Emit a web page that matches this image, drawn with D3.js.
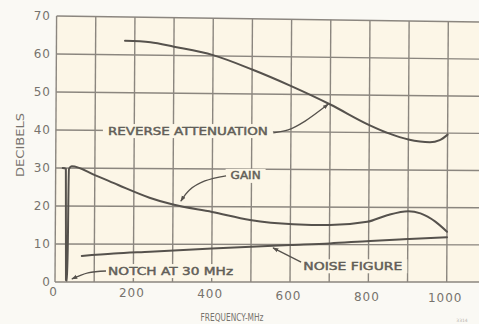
<!DOCTYPE html>
<html><head><meta charset="utf-8">
<script src="https://cdn.jsdelivr.net/npm/d3@7"></script>
<style>html,body{margin:0;padding:0;background:#faf9f4;}svg{display:block;}</style>
</head><body>
<svg id="c" width="479" height="324"></svg>
<script>
// ---------- data ----------
const freqGrid = [0,100,200,300,400,500,600,700,800,900,1000];
const freqTickLabels = [0,200,400,600,800,1000];
const dbTicks = [0,10,20,30,40,50,60,70];

// [frequency MHz, dB]
const reverseAttenuation = [[175,63.7],[240,63.4],[300,62.3],[400,60.2],[500,56.5],[600,52.2],[700,47.4],[800,42.0],[850,39.8],[900,38.2],[955,37.5],[980,38.1],[1000,39.6]];
const gain = [[18,30.0],[26,29.8],[28,0.5],[31,0.4],[34,29.8],[41,30.5],[100,28.2],[160,25.6],[240,22.3],[300,20.5],[400,18.6],[497,16.5],[607,15.4],[701,15.2],[796,16.1],[847,17.9],[901,19.0],[932,18.4],[970,16.2],[1000,13.5]];
const noiseFigure = [[68,6.85],[150,7.5],[242,8.0],[400,8.9],[500,9.4],[600,9.85],[701,10.3],[804,11.0],[900,11.5],[1000,12.0]];

const labelTexts = ["REVERSE ATTENUATION","GAIN","NOTCH AT 30 MHz","NOISE FIGURE"];
const labelAnchors = [[337,40.0],[485,28.2],[295,2.9],[760,4.2]];
const leaders = [
  [[555,39.7],[593,40.5],[636,42.9],[695,47.5]],
  [[435,28.2],[381,26.8],[342,24.4],[320,21.4]],
  [[130,2.9],[84,2.4],[43,0.8]],
  [[628,5.3],[556,9.1]]
];

// ---------- layout / style ----------
const W = 479, H = 324;
const labelLens = [160,30,125,99];
const bgOuter = "#faf9f4", bgPlot = "#fcf6e7";
const gridCol = "#8b867f", curveCol = "#56524d", textCol = "#625e58", tickCol = "#77736d";
const font = "'DejaVu Sans', Verdana, sans-serif";

const x = d3.scaleLinear().domain([0,1000]).range([55,446.7]);
const y = d3.scaleLinear().domain([0,70]).range([282,16]);
const fMax = x.invert(W);

// slight scan distortion of the original (top-right corner sits lower)
function warp(f, v){
  const px = x(f), py = y(v);
  const fy = (y(0) - py) / (y(0) - y(70));
  const fx = (px - x(0)) / (x(1000) - x(0));
  return [px + 1.6*fy, py + 5.5*fx*fy];
}

const svg = d3.select("#c");
svg.append("rect").attr("width",W).attr("height",H).attr("fill",bgOuter);

const defs = svg.append("defs");
defs.append("marker").attr("id","ah").attr("viewBox","0 0 10 10")
  .attr("refX",9).attr("refY",5).attr("markerWidth",6).attr("markerHeight",6)
  .attr("orient","auto").attr("markerUnits","userSpaceOnUse")
  .append("path").attr("d","M0,1.5 L10,5 L0,8.5 Z").attr("fill",curveCol);

// plot background
const corners = [[0,0],[0,70],[fMax,70],[fMax,0]].map(d=>warp(d[0],d[1]));
svg.append("path").attr("d","M"+corners.join("L")+"Z").attr("fill",bgPlot);

// grid
const grid = svg.append("g").attr("stroke",gridCol).attr("stroke-width",1.4).attr("fill","none");
dbTicks.forEach(v=>{
  const a = warp(0,v), b = warp(fMax,v);
  grid.append("path").attr("d",`M${a}L${b}`);
});
freqGrid.forEach(f=>{
  const a = warp(f,0), b = warp(f,70);
  grid.append("path").attr("d",`M${a}L${b}`);
});

// curves
const line = d3.line()
  .x(d=>warp(d[0],d[1])[0]).y(d=>warp(d[0],d[1])[1])
  .curve(d3.curveMonotoneX);
const curves = svg.append("g").attr("fill","none").attr("stroke",curveCol)
  .attr("stroke-width",2).attr("stroke-linejoin","round").attr("stroke-linecap","round");
[reverseAttenuation, gain, noiseFigure].forEach(s=>curves.append("path").attr("d",line(s)));

// annotations
const ann = svg.append("g");
const leaderLine = d3.line()
  .x(d=>warp(d[0],d[1])[0]).y(d=>warp(d[0],d[1])[1])
  .curve(d3.curveCatmullRom);
labelTexts.forEach((t,i)=>{
  const [cx,cy] = warp(labelAnchors[i][0], labelAnchors[i][1]);
  const w = labelLens[i];
  ann.append("rect").attr("x",cx-w/2-5).attr("y",cy-7).attr("width",w+10).attr("height",14)
    .attr("fill",bgPlot);
  ann.append("text").attr("x",cx).attr("y",cy).attr("text-anchor","middle")
    .attr("dominant-baseline","central").attr("font-family",font).attr("font-size",11)
    .attr("fill",textCol).attr("stroke",textCol).attr("stroke-width",0.45)
    .attr("textLength",w).attr("lengthAdjust","spacingAndGlyphs").text(t);
  ann.append("path").attr("d",leaderLine(leaders[i])).attr("fill","none")
    .attr("stroke",curveCol).attr("stroke-width",1.3).attr("marker-end","url(#ah)");
});

// y tick labels
svg.append("g").selectAll("text").data(dbTicks).join("text")
  .attr("x",x(0)-4).attr("y",d=>y(d)).attr("text-anchor","end")
  .attr("dominant-baseline","central").attr("font-family",font).attr("font-size",12)
  .attr("letter-spacing",1).attr("fill",tickCol).text(d=>d);

// x tick labels
svg.append("g").selectAll("text").data(freqTickLabels).join("text")
  .attr("x",d=>x(d)-1.5).attr("y",d=>292+6*d/1000).attr("text-anchor","middle")
  .attr("dominant-baseline","central").attr("font-family",font).attr("font-size",12)
  .attr("letter-spacing",1).attr("fill",tickCol).text(d=>d);

// axis titles
svg.append("text").attr("x",232).attr("y",317).attr("text-anchor","middle")
  .attr("dominant-baseline","central").attr("font-family",font).attr("font-size",10.5)
  .attr("fill",tickCol).attr("textLength",63).attr("lengthAdjust","spacingAndGlyphs")
  .text("FREQUENCY-MHz");
svg.append("text").attr("transform","translate(20,145) rotate(-90)").attr("text-anchor","middle")
  .attr("dominant-baseline","central").attr("font-family",font).attr("font-size",10.5)
  .attr("fill",tickCol).attr("textLength",64).attr("lengthAdjust","spacingAndGlyphs")
  .text("DECIBELS");
svg.append("text").attr("x",462).attr("y",320).attr("text-anchor","middle")
  .attr("dominant-baseline","central").attr("font-family",font).attr("font-size",4.5)
  .attr("fill","#b9b4ad").text("3314");
</script>
</body></html>
